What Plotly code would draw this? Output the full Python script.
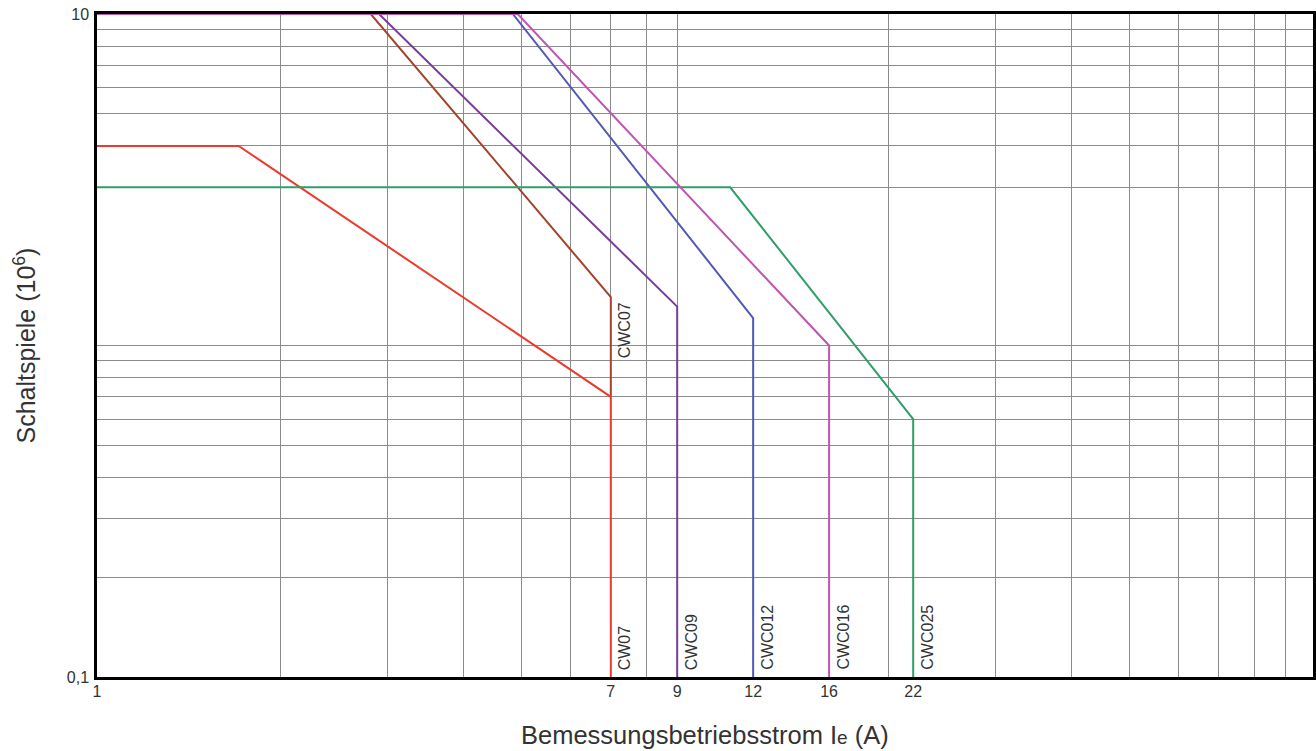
import math
import plotly.graph_objects as go

# ---- data ----
series_names = ["CWC07", "CW07", "CWC09", "CWC012", "CWC025", "CWC016"]
x_cwc07 = [1, 2.82, 7, 7]
y_cwc07 = [10, 10, 1.40, 0.70]
x_cw07 = [1, 1.71, 7, 7]
y_cw07 = [4.0, 4.0, 0.70, 0.1]
x_cwc09 = [1, 2.91, 9, 9]
y_cwc09 = [10, 10, 1.31, 0.1]
x_cwc012 = [1, 4.83, 12, 12]
y_cwc012 = [10, 10, 1.21, 0.1]
x_cwc025 = [1, 11.0, 22, 22]
y_cwc025 = [3.0, 3.0, 0.60, 0.1]
x_cwc016 = [1, 4.92, 16, 16]
y_cwc016 = [10, 10, 1.0, 0.1]

x_tick_vals = [1, 7, 9, 12, 16, 22]
x_tick_text = ["1", "7", "9", "12", "16", "22"]
y_tick_vals = [0.1, 10]
y_tick_text = ["0,1", "10"]
x_grid_vals = [2, 3, 4, 5, 6, 7, 8, 9, 20, 30, 40, 50, 60, 70, 80, 90]
y_grid_vals = [0.2, 0.3, 0.4, 0.5, 0.6, 0.7, 0.8, 0.9, 1, 3, 4, 5, 6, 7, 8, 9]

label_text = ["CWC07", "CW07", "CWC09", "CWC012", "CWC016", "CWC025"]
label_x = [7, 7, 9, 12, 16, 22]
label_y = [1.11, 0.1, 0.1, 0.1, 0.1, 0.1]

colors = {
    "CWC07": "#a2432c",
    "CW07": "#ec3a2c",
    "CWC09": "#7a3c9a",
    "CWC012": "#5359b5",
    "CWC025": "#2f9e68",
    "CWC016": "#c055b2",
}

xs = [x_cwc07, x_cw07, x_cwc09, x_cwc012, x_cwc025, x_cwc016]
ys = [y_cwc07, y_cw07, y_cwc09, y_cwc012, y_cwc025, y_cwc016]

fig = go.Figure()
for name, xv, yv in zip(series_names, xs, ys):
    fig.add_trace(go.Scatter(
        x=xv, y=yv, mode="lines", name=name,
        line=dict(color=colors[name], width=2),
        showlegend=False, hoverinfo="skip",
    ))

font_family = "Liberation Sans, Arial, sans-serif"
text_color = "#333333"

for t, xv, yv in zip(label_text, label_x, label_y):
    bottom = yv <= 0.1
    fig.add_annotation(
        x=math.log10(xv), y=math.log10(yv), xref="x", yref="y",
        text=t, showarrow=False, textangle=-90,
        xanchor="center", yanchor="bottom" if bottom else "middle",
        xshift=14, yshift=5 if bottom else 0,
        font=dict(family=font_family, size=16, color=text_color),
    )

fig.add_annotation(
    x=0.5, y=-0.087, xref="paper", yref="paper",
    text='Bemessungsbetriebsstrom I<span style="font-size:19px">e</span> (A)',
    showarrow=False, xanchor="center", yanchor="middle",
    font=dict(family=font_family, size=25.5, color=text_color),
)
fig.add_annotation(
    x=-0.06, y=0.5, xref="paper", yref="paper",
    text="Schaltspiele (10<sup>6</sup>)", textangle=-90,
    showarrow=False, xanchor="center", yanchor="middle",
    font=dict(family=font_family, size=25, color=text_color),
)

grid_color = "#8c8c8c"
fig.update_xaxes(
    type="log", range=[0, 2],
    tickmode="array", tickvals=x_tick_vals, ticktext=x_tick_text,
    showgrid=False, ticks="", zeroline=False,
    showline=True, linecolor="black", linewidth=2.5, mirror=True,
    tickfont=dict(family=font_family, size=16, color=text_color),
    ticklabelstandoff=-2,
    minor=dict(tickmode="array", tickvals=x_grid_vals, showgrid=True,
               gridcolor=grid_color, gridwidth=1, ticks=""),
    automargin=False,
)
fig.update_yaxes(
    type="log", range=[-1, 1],
    tickmode="array", tickvals=y_tick_vals, ticktext=y_tick_text,
    showgrid=False, ticks="", zeroline=False,
    showline=True, linecolor="black", linewidth=2.5, mirror=True,
    tickfont=dict(family=font_family, size=16, color=text_color),
    ticklabelstandoff=2,
    minor=dict(tickmode="array", tickvals=y_grid_vals, showgrid=True,
               gridcolor=grid_color, gridwidth=1, ticks=""),
    automargin=False,
)

fig.update_layout(
    width=1316, height=751,
    margin=dict(l=97, r=3, t=14, b=74, pad=0, autoexpand=False),
    plot_bgcolor="white", paper_bgcolor="white",
)

fig.write_html(
    "out.html",
    config={"displayModeBar": False},
    post_script="document.body.style.margin='0';document.body.style.overflow='hidden';",
)
